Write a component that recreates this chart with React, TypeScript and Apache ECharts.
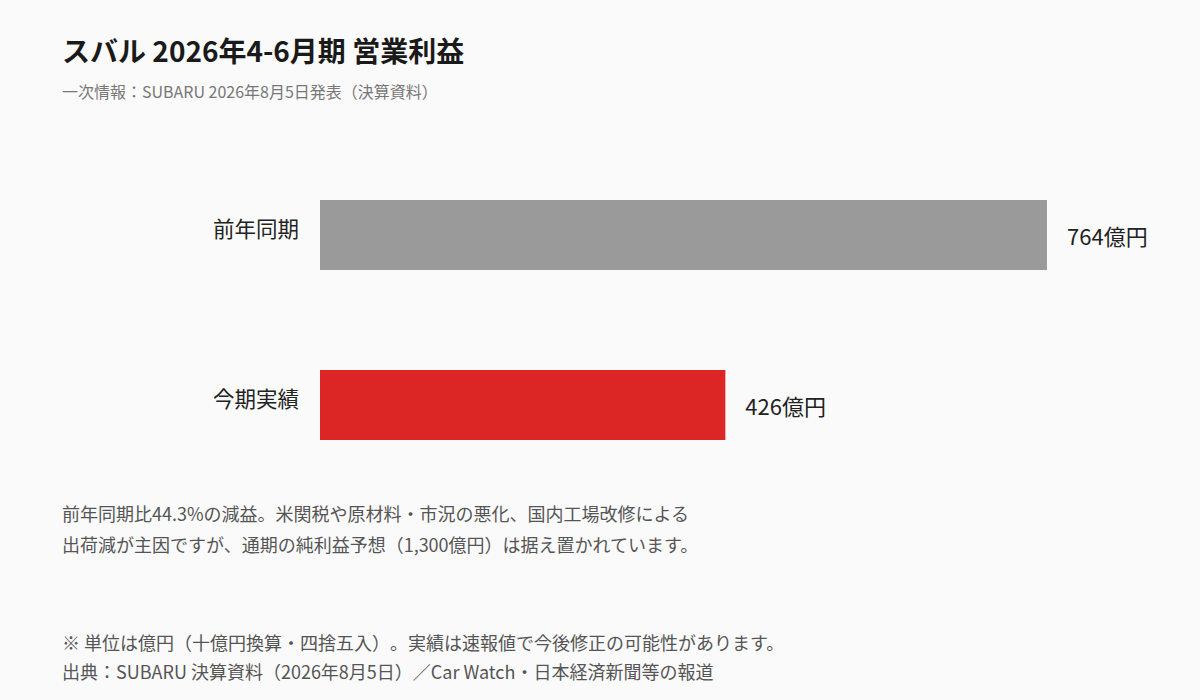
import React, { useEffect, useRef } from "react";
import * as echarts from "echarts";

const titleText = "スバル 2026年4-6月期 営業利益";
const subtitleText = "一次情報：SUBARU 2026年8月5日発表（決算資料）";
const categories = ["前年同期", "今期実績"];
const values = [764, 426];
const barColors = ["#9a9a9a", "#dc2626"];
const unit = "億円";
const noteLines = [
  "前年同期比44.3%の減益。米関税や原材料・市況の悪化、国内工場改修による",
  "出荷減が主因ですが、通期の純利益予想（1,300億円）は据え置かれています。",
];
const footerLines = [
  "※ 単位は億円（十億円換算・四捨五入）。実績は速報値で今後修正の可能性があります。",
  "出典：SUBARU 決算資料（2026年8月5日）／Car Watch・日本経済新聞等の報道",
];

const FONT = '"Noto Sans CJK JP", "Noto Sans", sans-serif';

export default function App() {
  const ref = useRef<HTMLDivElement>(null);
  useEffect(() => {
    if (!ref.current) return;
    const chart = echarts.init(ref.current, null, { renderer: "svg" });
    const noteY = [513, 544];
    const footY = [642, 671];
    chart.setOption({
      animation: false,
      backgroundColor: "#fafafa",
      textStyle: { fontFamily: FONT },
      grid: { left: 320, width: 727, top: 150, height: 340 },
      xAxis: { type: "value", min: 0, max: 764, show: false },
      yAxis: {
        type: "category",
        data: categories,
        inverse: true,
        axisLine: { show: false },
        axisTick: { show: false },
        splitLine: { show: false },
        axisLabel: {
          fontSize: 21.5,
          color: "#222",
          margin: 21,
          fontFamily: FONT,
          verticalAlign: "bottom",
          lineHeight: 16,
        },
      },
      series: [
        {
          type: "bar",
          barWidth: 70,
          data: values.map((v, i) => ({ value: v, itemStyle: { color: barColors[i] } })),
          label: {
            show: true,
            position: "right",
            distance: 20,
            fontSize: 22,
            color: "#222",
            fontFamily: FONT,
            formatter: (p: any) => `${p.value}${unit}`,
          },
        },
      ],
      graphic: [
        {
          type: "text",
          left: 62,
          top: 36,
          style: {
            text: titleText,
            fontSize: 28,
            fontWeight: "bold",
            fill: "#1a1a1a",
            fontFamily: FONT,
          },
        },
        {
          type: "text",
          x: 62,
          y: 91,
          style: {
            text: subtitleText,
            fontSize: 16,
            fill: "#777",
            fontFamily: FONT,
            verticalAlign: "middle",
          },
        },
        ...noteLines.map((t, i) => ({
          type: "text",
          x: 62,
          y: noteY[i],
          style: { text: t, fontSize: 18, fill: "#555", fontFamily: FONT, verticalAlign: "middle" },
        })),
        ...footerLines.map((t, i) => ({
          type: "text",
          x: 62,
          y: footY[i],
          style: { text: t, fontSize: 18, fill: "#555", fontFamily: FONT, verticalAlign: "middle" },
        })),
      ],
    });
    return () => chart.dispose();
  }, []);
  return (
    <div
      ref={ref}
      style={
        {
          position: "fixed",
          left: 0,
          top: 0,
          width: 1200,
          height: 700,
          background: "#fafafa",
          textSpacingTrim: "space-all",
        } as any
      }
    />
  );
}
